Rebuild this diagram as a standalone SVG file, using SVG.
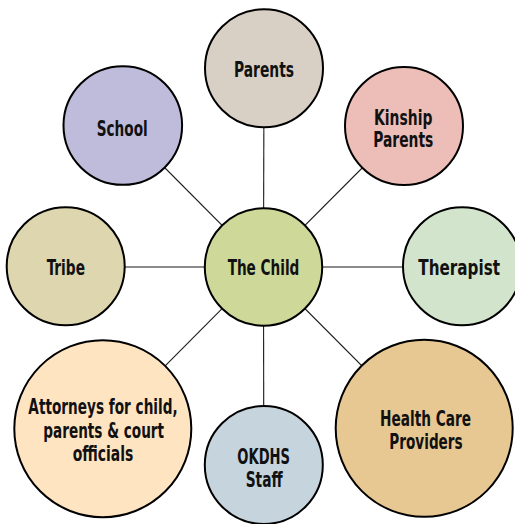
<svg xmlns="http://www.w3.org/2000/svg" width="515" height="524" viewBox="0 0 515 524">
<style>
.n{stroke:#000;stroke-width:2}
.c line{stroke:#1a1a1a;stroke-width:1.1}
text{font-family:"DejaVu Sans Condensed","DejaVu Sans",sans-serif;font-weight:bold;font-size:20.5px;fill:#111;text-anchor:middle}
</style>
<rect width="515" height="524" fill="#fff"/>
<g id="connectors" class="c">
<line x1="263.5" y1="267" x2="264" y2="68"/>
<line x1="263.5" y1="267" x2="122.8" y2="125.5"/>
<line x1="263.5" y1="267" x2="404" y2="126"/>
<line x1="263.5" y1="267" x2="65.7" y2="267"/>
<line x1="263.5" y1="267" x2="462" y2="267"/>
<line x1="263.5" y1="267" x2="102.8" y2="428.7"/>
<line x1="263.5" y1="267" x2="263.8" y2="465"/>
<line x1="263.5" y1="267" x2="424.2" y2="428.3"/>
</g>
<g id="parents"><circle class="n" cx="264" cy="68.3" r="59" fill="#D8D0C4"/><text x="264" y="77.3" textLength="60" lengthAdjust="spacingAndGlyphs">Parents</text></g>
<g id="school"><circle class="n" cx="122.8" cy="125.5" r="59.3" fill="#BEBBDB"/><text x="122.2" y="136" textLength="51" lengthAdjust="spacingAndGlyphs">School</text></g>
<g id="kinship"><circle class="n" cx="404" cy="126" r="59" fill="#EDBDB7"/><text x="403.2" y="125" textLength="58.3" lengthAdjust="spacingAndGlyphs">Kinship</text><text x="403.3" y="147.3" textLength="60" lengthAdjust="spacingAndGlyphs">Parents</text></g>
<g id="tribe"><circle class="n" cx="65.7" cy="266.3" r="59" fill="#DDD6AF"/><text x="65.8" y="275.3" textLength="38.3" lengthAdjust="spacingAndGlyphs">Tribe</text></g>
<g id="child"><circle class="n" cx="263.5" cy="267" r="58.7" fill="#CED898"/><text x="263.5" y="275.3" textLength="71.7" lengthAdjust="spacingAndGlyphs">The Child</text></g>
<g id="therapist"><circle class="n" cx="462" cy="266.3" r="59" fill="#D3E4CC"/><text x="459.2" y="275.3" textLength="81.7" lengthAdjust="spacingAndGlyphs">Therapist</text></g>
<g id="attorneys"><circle class="n" cx="102.8" cy="428.7" r="88.5" fill="#FFE4C2"/><text x="103" y="413.7" textLength="149.3" lengthAdjust="spacingAndGlyphs">Attorneys for child,</text><text x="103.7" y="437.7" textLength="120.7" lengthAdjust="spacingAndGlyphs">parents &amp; court</text><text x="103" y="461" textLength="60.7" lengthAdjust="spacingAndGlyphs">officials</text></g>
<g id="okdhs"><circle class="n" cx="263.8" cy="465" r="59" fill="#C6D4DE"/><text x="263.7" y="463.7" textLength="52.7" lengthAdjust="spacingAndGlyphs">OKDHS</text><text x="264.2" y="487" textLength="37" lengthAdjust="spacingAndGlyphs">Staff</text></g>
<g id="health"><circle class="n" cx="424.2" cy="428.3" r="88.5" fill="#E8C892"/><text x="425.5" y="426" textLength="91" lengthAdjust="spacingAndGlyphs">Health Care</text><text x="426" y="449.3" textLength="73.3" lengthAdjust="spacingAndGlyphs">Providers</text></g>
</svg>
